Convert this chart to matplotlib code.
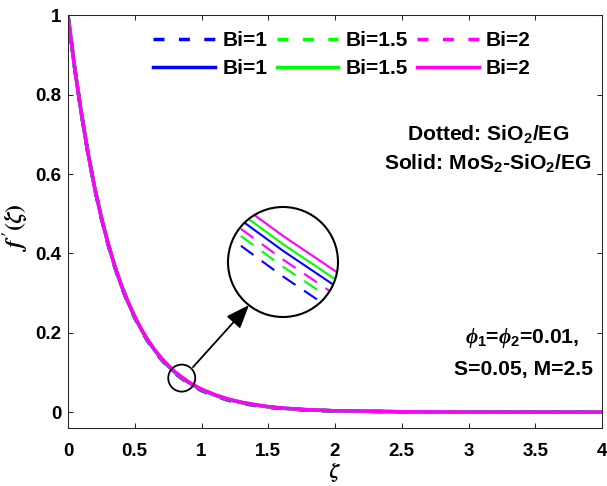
import matplotlib
matplotlib.use("Agg")
import matplotlib.pyplot as plt
from matplotlib.patches import Circle, Ellipse

plt.rcParams['font.family'] = ['Liberation Sans', 'DejaVu Sans']
plt.rcParams['font.weight'] = 'bold'
plt.rcParams['mathtext.fontset'] = 'custom'
plt.rcParams['mathtext.rm'] = 'Liberation Sans:bold'
plt.rcParams['mathtext.bf'] = 'Liberation Sans:bold'
plt.rcParams['mathtext.it'] = 'Liberation Serif:italic:bold'
plt.rcParams['lines.scale_dashes'] = False

# ---------------- data ----------------
zeta = [0.00, 0.05, 0.10, 0.15, 0.20, 0.25, 0.30, 0.35, 0.40, 0.45, 0.50, 0.55,
        0.60, 0.65, 0.70, 0.75, 0.80, 0.85, 0.90, 0.95, 1.00, 1.10, 1.20, 1.30,
        1.40, 1.50, 1.60, 1.80, 2.00, 2.50, 3.00, 3.50, 4.00]

# Solid: MoS2-SiO2/EG
solid_bi1 = [1.00000, 0.86771, 0.75349, 0.65228, 0.56513, 0.48999, 0.42487, 0.36777,
             0.31870, 0.27664, 0.23959, 0.20755, 0.17955, 0.15555, 0.13455, 0.11655,
             0.10055, 0.08755, 0.07555, 0.06555, 0.05659, 0.04270, 0.03184, 0.02399,
             0.01813, 0.01328, 0.00992, 0.00564, 0.00328, 0.00093, 0.00030, 0.00010, 0.00000]
solid_bi15 = [1.00000, 0.86784, 0.75372, 0.65260, 0.56552, 0.49044, 0.42538, 0.36832,
              0.31928, 0.27725, 0.24022, 0.20820, 0.18020, 0.15620, 0.13520, 0.11720,
              0.10120, 0.08820, 0.07620, 0.06620, 0.05722, 0.04328, 0.03236, 0.02444,
              0.01852, 0.01360, 0.01018, 0.00580, 0.00338, 0.00096, 0.00030, 0.00010, 0.00000]
solid_bi2 = [1.00000, 0.86800, 0.75400, 0.65300, 0.56600, 0.49100, 0.42600, 0.36900,
             0.32000, 0.27800, 0.24100, 0.20900, 0.18100, 0.15700, 0.13600, 0.11800,
             0.10200, 0.08900, 0.07700, 0.06700, 0.05800, 0.04400, 0.03300, 0.02500,
             0.01900, 0.01400, 0.01050, 0.00600, 0.00350, 0.00100, 0.00030, 0.00010, 0.00000]
# Dotted: SiO2/EG
dash_bi1 = [1.00000, 0.86721, 0.75262, 0.65103, 0.56363, 0.48824, 0.42292, 0.36564,
            0.31645, 0.27429, 0.23717, 0.20505, 0.17705, 0.15305, 0.13205, 0.11405,
            0.09805, 0.08505, 0.07305, 0.06305, 0.05417, 0.04045, 0.02984, 0.02224,
            0.01663, 0.01203, 0.00892, 0.00502, 0.00291, 0.00080, 0.00030, 0.00010, 0.00000]
dash_bi15 = [1.00000, 0.86740, 0.75295, 0.65150, 0.56420, 0.48890, 0.42366, 0.36645,
             0.31730, 0.27518, 0.23809, 0.20600, 0.17800, 0.15400, 0.13300, 0.11500,
             0.09900, 0.08600, 0.07400, 0.06400, 0.05509, 0.04130, 0.03060, 0.02290,
             0.01720, 0.01250, 0.00930, 0.00525, 0.00305, 0.00085, 0.00030, 0.00010, 0.00000]
dash_bi2 = [1.00000, 0.86754, 0.75320, 0.65185, 0.56462, 0.48939, 0.42421, 0.36705,
            0.31793, 0.27584, 0.23877, 0.20670, 0.17870, 0.15470, 0.13370, 0.11570,
            0.09970, 0.08670, 0.07470, 0.06470, 0.05577, 0.04193, 0.03116, 0.02339,
            0.01762, 0.01285, 0.00958, 0.00543, 0.00316, 0.00089, 0.00030, 0.00010, 0.00000]

legend_labels = ['Bi=1', 'Bi=1.5', 'Bi=2']
colors = ['#0000FF', '#00FF00', '#FF00FF']
xticks = [0, 0.5, 1, 1.5, 2, 2.5, 3, 3.5, 4]
xtick_labels = ['0', '0.5', '1', '1.5', '2', '2.5', '3', '3.5', '4']
yticks = [0, 0.2, 0.4, 0.6, 0.8, 1]
ytick_labels = ['0', '0.2', '0.4', '0.6', '0.8', '1']

W, H = 607, 486
fig = plt.figure(figsize=(W / 100, H / 100), dpi=100)
ax = fig.add_axes([68 / W, 1 - 428 / H, (602 - 68) / W, (428 - 15.5) / H])

main_dash = (0, (7.9, 10.4))
lw = 2.5
dashed = [dash_bi1, dash_bi15, dash_bi2]
solid = [solid_bi1, solid_bi15, solid_bi2]
hd, hs = [], []
for d, c, lab in zip(dashed, colors, legend_labels):
    l, = ax.plot(zeta, d, color=c, lw=lw, linestyle=main_dash, label=lab)
    hd.append(l)
for s, c, lab in zip(solid, colors, legend_labels):
    l, = ax.plot(zeta, s, color=c, lw=lw, linestyle='-', label=lab)
    hs.append(l)

ax.set_xlim(0, 4)
ax.set_ylim(-0.04, 1)
ax.set_xticks(xticks)
ax.set_xticklabels(xtick_labels)
ax.set_yticks(yticks)
ax.set_yticklabels(ytick_labels)
ax.tick_params(direction='in', length=3.6, width=0.75, top=True, right=True,
               labelsize=13.5, colors='#262626')
ax.tick_params(axis='x', pad=11)
ax.tick_params(axis='y', pad=4.5)
for lab in ax.get_xticklabels() + ax.get_yticklabels():
    lab.set_color('black')
for sp in ax.spines.values():
    sp.set_color('#262626')
    sp.set_linewidth(0.75)

ax.set_xlabel(r'$\zeta$', fontsize=15, math_fontfamily='stix')
ax.xaxis.set_label_coords(0.5, -(461 - 428) / 412.5)
ax.set_ylabel(r"$f\,'(\zeta)$", fontsize=17, math_fontfamily='stix')
ax.yaxis.set_label_coords(-(68 - 30) / 534, 0.5 + (221.5 - 228) / 412.5)

# legend: row1 dashed, row2 solid
handles = [hd[0], hs[0], hd[1], hs[1], hd[2], hs[2]]
labels = [legend_labels[0]] * 2 + [legend_labels[1]] * 2 + [legend_labels[2]] * 2
ax.legend(handles, labels, ncol=3, loc='upper left',
          bbox_to_anchor=(143 / W, 1 - 21 / H), bbox_transform=fig.transFigure,
          frameon=False, borderpad=0, handlelength=2.97, handletextpad=0.33,
          columnspacing=0.45, labelspacing=0.42, prop={'size': 15, 'weight': 'bold'})

# annotation texts
fs = 15.2
fig.text(488 / W, 1 - 140 / H, 'Dotted: SiO$_2$/EG', ha='center', va='baseline',
         fontsize=fs, fontweight='bold')
fig.text(487.5 / W, 1 - 169 / H, 'Solid: MoS$_2$-SiO$_2$/EG', ha='center', va='baseline',
         fontsize=fs, fontweight='bold')
fig.text(522 / W, 1 - 343 / H, r'$\phi_1$=$\phi_2$=0.01,', ha='center', va='baseline',
         fontsize=fs, fontweight='bold')
fig.text(523 / W, 1 - 375 / H, 'S=0.05, M=2.5', ha='center', va='baseline',
         fontsize=fs, fontweight='bold')

# small circle marking zoom region
ax.add_patch(Ellipse((0.852, 0.0858), 27 / 133.5, 27 / 396.5, fill=False,
                     ec='black', lw=1.3, zorder=5))
# arrow to inset
ax.annotate('', xy=(1.356, 0.270), xytext=(0.936, 0.1135),
            arrowprops=dict(arrowstyle='-|>,head_length=0.9,head_width=0.35',
                            color='black', lw=1.3, shrinkA=0, shrinkB=0,
                            mutation_scale=16), zorder=5)

# inset (circular zoom)
ax_in = fig.add_axes([228 / W, 1 - 317 / H, 110 / W, 110 / H])
ax_in.set_axis_off()
bg = Circle((0.5, 0.5), 0.5, transform=ax_in.transAxes, fc='white', ec='none', zorder=0)
ax_in.add_patch(bg)
in_dash = (0, (11.2, 7.4))
for d, c in zip(dashed, colors):
    l, = ax_in.plot(zeta, d, color=c, lw=1.5, linestyle=in_dash, zorder=2)
    l.set_clip_path(bg)
for s, c in zip(solid, colors):
    l, = ax_in.plot(zeta, s, color=c, lw=1.5, linestyle='-', zorder=2)
    l.set_clip_path(bg)
ax_in.set_xlim(0.835, 0.865)
ax_in.set_ylim(0.08111, 0.09181)
ax_in.add_patch(Circle((0.5, 0.5), 0.5, transform=ax_in.transAxes, fill=False,
                       ec='black', lw=1.5, zorder=5, clip_on=False))

fig.savefig('out.png', dpi=100)
